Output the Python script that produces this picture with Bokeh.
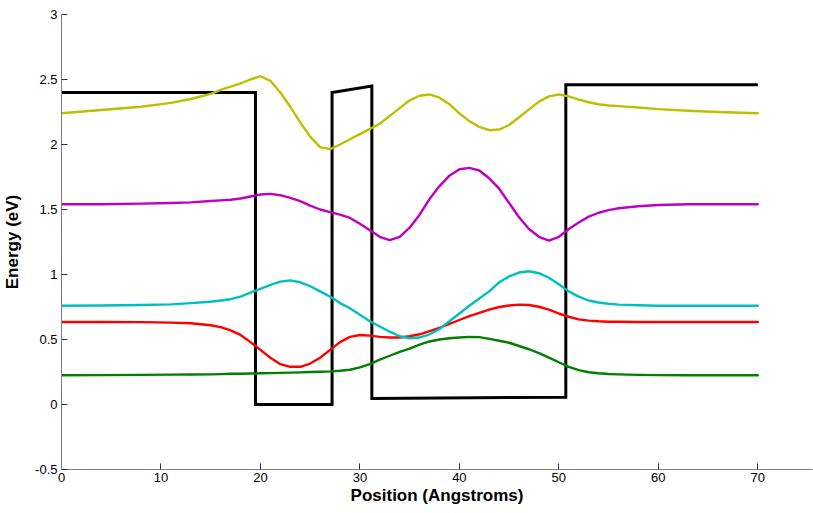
from bokeh.plotting import figure
from bokeh.models import Range1d, FixedTicker
from bokeh.embed import file_html
from bokeh.resources import INLINE

# Potential profile (eV) vs position (Angstroms)
pot_x = [0, 19.5, 19.5, 27.2, 27.2, 31.2, 31.2, 50.7, 50.7, 70]
pot_y = [2.40, 2.40, 0.0, 0.0, 2.40, 2.45, 0.046, 0.056, 2.46, 2.46]

# Shared position grid for the wavefunction curves
pos = [0, 4, 8, 11, 13, 15, 16, 17, 18, 19, 20, 21, 22, 23, 24, 25, 26, 27, 28, 29,
       30, 31, 32, 33, 34, 35, 36, 37, 38, 39, 40, 41, 42, 43, 44, 45, 46, 47, 48, 49,
       50, 51, 52, 53, 54, 55, 56, 58, 60, 63, 66, 70]

state_yellow = [2.24, 2.265, 2.29, 2.32, 2.35, 2.39, 2.42, 2.445, 2.47, 2.50,
                2.525, 2.49, 2.40, 2.29, 2.17, 2.06, 1.98, 1.965, 2.00, 2.04,
                2.08, 2.12, 2.16, 2.22, 2.28, 2.34, 2.375, 2.385, 2.36, 2.31,
                2.24, 2.18, 2.135, 2.11, 2.115, 2.15, 2.21, 2.27, 2.33, 2.37,
                2.385, 2.37, 2.345, 2.325, 2.31, 2.30, 2.295, 2.285, 2.272, 2.26, 2.25, 2.24]

state_magenta = [1.54, 1.54, 1.545, 1.55, 1.555, 1.565, 1.57, 1.575, 1.585, 1.60,
                 1.615, 1.62, 1.61, 1.59, 1.565, 1.53, 1.50, 1.48, 1.46, 1.435,
                 1.39, 1.34, 1.29, 1.265, 1.29, 1.36, 1.46, 1.58, 1.68, 1.76,
                 1.81, 1.82, 1.80, 1.74, 1.66, 1.55, 1.44, 1.35, 1.29, 1.26,
                 1.29, 1.35, 1.40, 1.445, 1.475, 1.495, 1.51, 1.525, 1.535, 1.54, 1.54, 1.54]

state_cyan = [0.76, 0.762, 0.765, 0.77, 0.78, 0.79, 0.80, 0.81, 0.83, 0.86,
              0.89, 0.92, 0.945, 0.955, 0.94, 0.91, 0.87, 0.83, 0.78, 0.74,
              0.69, 0.64, 0.60, 0.56, 0.525, 0.51, 0.515, 0.54, 0.58, 0.64,
              0.70, 0.76, 0.815, 0.87, 0.94, 0.985, 1.015, 1.025, 1.01, 0.975,
              0.925, 0.87, 0.83, 0.80, 0.785, 0.775, 0.768, 0.763, 0.76, 0.76, 0.76, 0.76]

state_red = [0.635, 0.635, 0.634, 0.63, 0.625, 0.61, 0.595, 0.57, 0.535, 0.48,
             0.42, 0.36, 0.31, 0.29, 0.29, 0.315, 0.36, 0.42, 0.48, 0.52,
             0.535, 0.53, 0.52, 0.515, 0.515, 0.525, 0.54, 0.565, 0.59, 0.62,
             0.65, 0.68, 0.705, 0.73, 0.75, 0.762, 0.768, 0.765, 0.752, 0.73,
             0.70, 0.675, 0.655, 0.645, 0.64, 0.637, 0.636, 0.635, 0.635, 0.635, 0.635, 0.635]

state_green = [0.225, 0.226, 0.228, 0.23, 0.231, 0.232, 0.234, 0.236, 0.237, 0.238,
               0.24, 0.241, 0.243, 0.245, 0.247, 0.25, 0.252, 0.255, 0.26, 0.267,
               0.285, 0.31, 0.345, 0.375, 0.405, 0.43, 0.46, 0.485, 0.50, 0.51,
               0.515, 0.52, 0.518, 0.505, 0.49, 0.475, 0.45, 0.425, 0.395, 0.36,
               0.325, 0.29, 0.265, 0.248, 0.24, 0.235, 0.232, 0.228, 0.226, 0.225, 0.225, 0.225]

x_ticks = [0, 10, 20, 30, 40, 50, 60, 70]
y_ticks = [-0.5, 0, 0.5, 1, 1.5, 2, 2.5, 3]
y_tick_labels = ["-0.5", "0", "0.5", "1", "1.5", "2", "2.5", "3"]

p = figure(width=813, height=513, output_backend="svg", toolbar_location=None,
           x_range=Range1d(0, 75.5), y_range=Range1d(-0.5, 3),
           min_border_left=60, min_border_right=1, min_border_top=14, min_border_bottom=44)
p.outline_line_color = None
p.xgrid.visible = False
p.ygrid.visible = False
p.background_fill_color = "white"
p.border_fill_color = "white"

p.line(pot_x, pot_y, line_color="black", line_width=3, line_join="miter")
curves = [(state_green, "#007f00"), (state_red, "#ff0000"), (state_cyan, "#00bfbf"),
          (state_magenta, "#bf00bf"), (state_yellow, "#bfbf00")]
for vals, col in curves:
    p.line(pos, vals, line_color=col, line_width=2.4, line_join="round", line_cap="round")

for ax in (p.xaxis[0], p.yaxis[0]):
    ax.major_tick_in = 6
    ax.major_tick_out = 0
    ax.minor_tick_line_color = None
    ax.axis_line_color = "#808080"
    ax.major_tick_line_color = "#333333"
    ax.major_label_text_font = "Liberation Sans"
    ax.major_label_text_font_size = "13px"
    ax.major_label_text_color = "black"
    ax.axis_label_text_font = "Liberation Sans"
    ax.axis_label_text_font_style = "bold"
    ax.axis_label_text_font_size = "17px"
    ax.axis_label_text_color = "black"

p.xaxis[0].ticker = FixedTicker(ticks=x_ticks)
p.yaxis[0].ticker = FixedTicker(ticks=y_ticks)
p.yaxis[0].major_label_overrides = {t: s for t, s in zip(y_ticks, y_tick_labels)}
p.xaxis[0].major_label_standoff = 3
p.yaxis[0].major_label_standoff = 4
p.xaxis[0].axis_label = "Position (Angstroms)"
p.yaxis[0].axis_label = "Energy (eV)"
p.xaxis[0].axis_label_standoff = 1
p.yaxis[0].axis_label_standoff = 10

open("out.html", "w").write(file_html(p, INLINE))
